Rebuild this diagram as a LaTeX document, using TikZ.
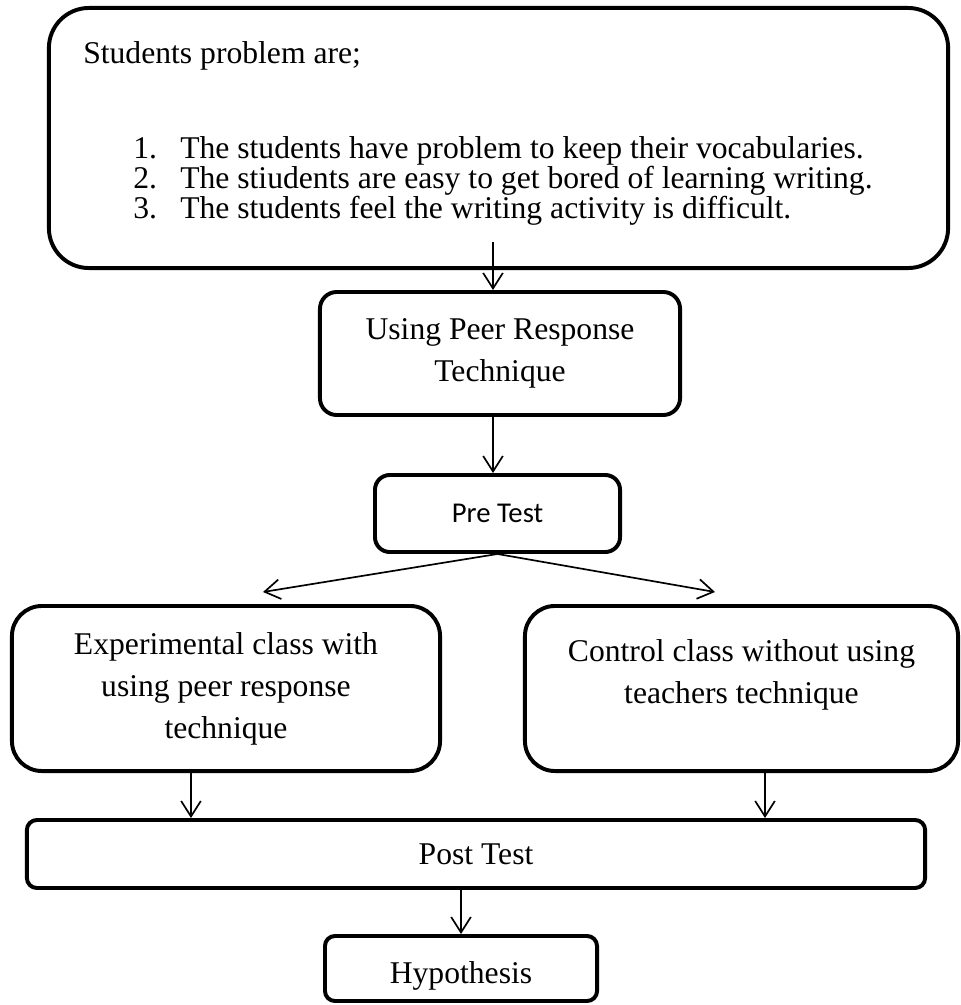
\documentclass[tikz,border=0pt]{standalone}
\usepackage{fontspec}
\setmainfont{Liberation Serif}
\newfontfamily\calibri{Carlito}
\usepackage{tikz}
\usetikzlibrary{arrows.meta, positioning, calc}

\tikzset{
  box/.style={draw, line width=2.8pt, align=center, inner sep=0pt},
  txt/.style={anchor=base west, inner sep=0pt},
  arr/.style={line width=1.2pt, -{Straight Barb[length=11pt,width=14pt]}},
}

\begin{document}
\begin{tikzpicture}[x=0.025cm, y=-0.025cm, font=\fontsize{22.5}{29.8}\selectfont]
\useasboundingbox (0,0) rectangle (960,1005);

\node[box, rounded corners=1cm, minimum width=22.475cm, minimum height=6.5cm] (prob) at (498.5,138) {};
\node[txt] (head) at (83,64) {Students problem are;};
\node[txt] (it1) at (133,158) {\makebox[1.175cm][l]{1.}The students have problem to keep their vocabularies.};
\node[txt] (it2) at (133,188) {\makebox[1.175cm][l]{2.}The stiudents are easy to get bored of learning writing.};
\node[txt] (it3) at (133,218) {\makebox[1.175cm][l]{3.}The students feel the writing activity is difficult.};

\node[box, rounded corners=0.42cm, minimum width=9cm, minimum height=3.075cm] (use) at (500,353.5) {Using Peer Response\\Technique};
\node[box, rounded corners=0.37cm, minimum width=6.125cm, minimum height=1.925cm, font=\calibri\fontsize{20.4}{24}\selectfont] (pre) at (497.5,513.5) {Pre Test};

\node[box, rounded corners=0.75cm, minimum width=10.7cm, minimum height=4.125cm] (exp) at (226,688.5) {Experimental class with\\using peer response\\technique};
\node[box, rounded corners=0.75cm, minimum width=10.825cm, minimum height=4.125cm] (ctrl) at (741.5,688.5) {Control class without using\\teachers technique\\[-0.2cm]\mbox{}};

\node[box, rounded corners=0.25cm, minimum width=22.45cm, minimum height=1.7cm] (post) at (476,854) {Post Test};
\node[box, rounded corners=0.25cm, minimum width=6.8cm, minimum height=1.625cm, text height=0.9cm, text depth=0.175cm] (hyp) at (461,968.5) {Hypothesis};

\coordinate (s1) at (493,242);
\coordinate (t1) at (263,592);
\coordinate (t2) at (715,592);

\draw[arr] (s1) -- (s1 |- use.north);
\draw[arr] (use.south -| s1) -- (s1 |- pre.north);
\draw[arr] (pre.south) -- (t1);
\draw[arr] (pre.south) -- (t2);
\draw[arr] ([xshift=-0.875cm]exp.south) -- ([xshift=-0.875cm]exp.south |- post.north);
\draw[arr] ([xshift=0.5875cm]ctrl.south) -- ([xshift=0.5875cm]ctrl.south |- post.north);
\draw[arr] (post.south -| hyp.north) -- (hyp.north);
\end{tikzpicture}
\end{document}
